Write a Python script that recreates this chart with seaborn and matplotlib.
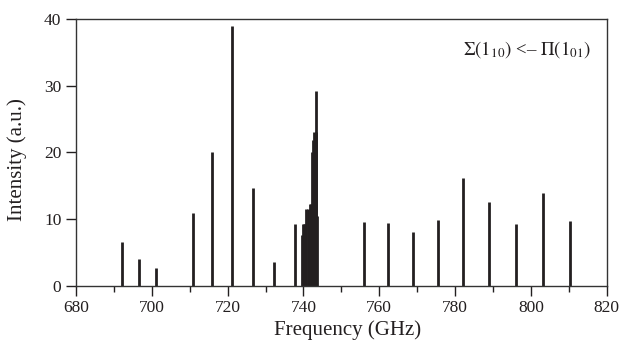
import matplotlib
matplotlib.use("Agg")
import matplotlib.pyplot as plt
import seaborn as sns
from matplotlib.ticker import MultipleLocator

# line positions (GHz) and intensities (a.u.)
freq = [692.1, 696.5, 701.1, 710.9, 716.0, 721.1, 726.6, 732.1, 737.9,
        739.6, 739.9, 740.2, 740.5, 740.8, 741.1, 741.4, 741.7, 742.0,
        742.3, 742.6, 742.9, 743.2, 743.4, 743.7,
        756.1, 762.4, 768.8, 775.4, 782.1, 789.0, 796.1, 803.2, 810.4]
intensity = [6.5, 4.0, 2.6, 10.9, 20.1, 39.0, 14.6, 3.5, 9.3,
             7.6, 9.3, 9.3, 9.3, 11.5, 11.5, 8.9, 12.2, 12.2,
             20.0, 21.9, 23.1, 23.1, 29.3, 10.4,
             9.5, 9.4, 8.1, 9.9, 16.1, 12.6, 9.2, 13.9, 9.7]

x_ticks = [680, 700, 720, 740, 760, 780, 800, 820]
y_ticks = [0, 10, 20, 30, 40]

sns.set_style("ticks")
plt.rcParams["font.family"] = ["Liberation Serif", "DejaVu Serif"]
plt.rcParams["mathtext.fontset"] = "stix"

fig = plt.figure(figsize=(6.22, 3.44), dpi=100)
ax = fig.add_axes([0.1222, 0.1695, 0.8532, 0.7744])

ax.vlines(freq, 0, intensity, color="#231f20", linewidth=2.0)

ax.set_xlim(680, 820)
ax.set_ylim(0, 40)
ax.set_xticks(x_ticks)
ax.set_yticks(y_ticks)
ax.xaxis.set_minor_locator(MultipleLocator(10))
ax.tick_params(axis="both", which="major", length=7, width=1, labelsize=12.5,
               color="#231f20", labelcolor="#231f20", direction="out")
ax.tick_params(axis="x", which="minor", length=4, width=1, color="#231f20")
ax.tick_params(top=False, right=False)

for side in ["top", "right", "left", "bottom"]:
    ax.spines[side].set_color("#333333")
    ax.spines[side].set_linewidth(1.0)

ax.set_xlabel("Frequency (GHz)", fontsize=15, color="#231f20")
ax.set_ylabel("Intensity (a.u.)", fontsize=15, color="#231f20")
ax.xaxis.set_label_coords(0.5125, -0.128)
ax.yaxis.set_label_coords(-0.092, 0.472)

ax.text(0.97, 0.885, r"$\Sigma(1_{10})$ <– $\Pi(1_{01})$", transform=ax.transAxes,
        ha="right", va="center", fontsize=13.5, color="#231f20")

fig.savefig("out.png", dpi=100)
